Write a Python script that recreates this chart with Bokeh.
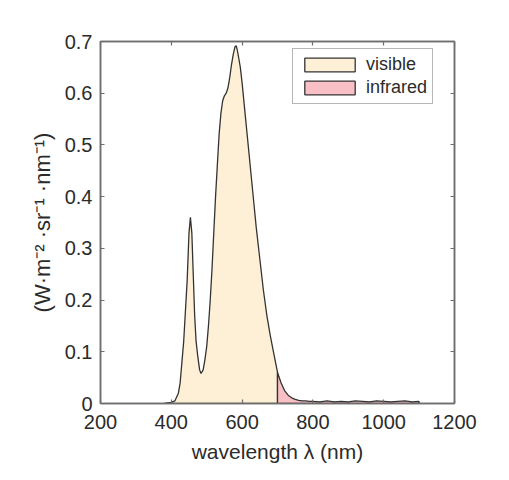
from bokeh.plotting import figure
from bokeh.models import FixedTicker, LinearAxis, Range1d, Legend, LegendItem
from bokeh.embed import file_html
from bokeh.resources import INLINE

# ---- data ----
wavelength = [380, 400, 410, 420, 425, 430, 435, 440, 445, 450, 454, 458, 462, 466, 470,
              475, 480, 484, 490, 495, 500, 505, 510, 515, 520, 525, 530, 535, 540, 545,
              550, 555, 560, 565, 570, 575, 580, 583, 586, 590, 595, 600, 610, 620, 630,
              640, 650, 660, 670, 680, 690, 700, 710, 720, 730, 740, 750, 760, 770, 780,
              790, 800, 820, 840, 860, 880, 900, 920, 940, 960, 980, 1000, 1020, 1040,
              1060, 1080, 1100]
radiance = [0.0, 0.002, 0.005, 0.02, 0.04, 0.08, 0.12, 0.18, 0.24, 0.33, 0.36, 0.33, 0.25,
            0.17, 0.12, 0.09, 0.065, 0.058, 0.065, 0.085, 0.11, 0.15, 0.20, 0.26, 0.33,
            0.40, 0.46, 0.52, 0.56, 0.585, 0.595, 0.60, 0.61, 0.63, 0.655, 0.675, 0.69,
            0.692, 0.685, 0.67, 0.65, 0.62, 0.55, 0.48, 0.41, 0.34, 0.28, 0.22, 0.17,
            0.13, 0.095, 0.06, 0.04, 0.025, 0.016, 0.011, 0.008, 0.006, 0.005, 0.005,
            0.004, 0.004, 0.003, 0.005, 0.003, 0.004, 0.003, 0.005, 0.004, 0.003, 0.005,
            0.004, 0.003, 0.004, 0.005, 0.003, 0.004]
split_nm = 700
series_names = ["visible", "infrared"]
series_colors = ["#FDF0D7", "#F8BFC4"]
x_ticks = [200, 400, 600, 800, 1000, 1200]
y_ticks = [0, 0.1, 0.2, 0.3, 0.4, 0.5, 0.6, 0.7]
y_tick_labels = ["0", "0.1", "0.2", "0.3", "0.4", "0.5", "0.6", "0.7"]

FONT = "Liberation Sans"
TXT = "#2b2b2b"
EDGE = "#333333"
FRAME = "#6e6e6e"

p = figure(width=495, height=470, frame_width=354, frame_height=362,
           output_backend="svg", toolbar_location=None,
           x_range=Range1d(200, 1200), y_range=Range1d(0, 0.7),
           min_border_left=100, min_border_right=41, min_border_top=41, min_border_bottom=67)
p.background_fill_color = "white"
p.border_fill_color = "white"
p.outline_line_color = FRAME
p.outline_line_width = 1.5
p.grid.visible = False

# split data at boundary
vis_x = [w for w in wavelength if w <= split_nm]
vis_y = [r for w, r in zip(wavelength, radiance) if w <= split_nm]
ir_x = [w for w in wavelength if w >= split_nm]
ir_y = [r for w, r in zip(wavelength, radiance) if w >= split_nm]

vis = p.patch(vis_x + [vis_x[-1], vis_x[0]], vis_y + [0, 0],
              fill_color=series_colors[0], line_color=EDGE, line_width=1.3)
ir = p.patch(ir_x + [ir_x[-1], ir_x[0]], ir_y + [0, 0],
             fill_color=series_colors[1], line_color=EDGE, line_width=1.3)

xa = p.xaxis[0]
ya = p.yaxis[0]
xa.ticker = FixedTicker(ticks=x_ticks)
ya.ticker = FixedTicker(ticks=y_ticks)
for ax in (xa, ya):
    ax.axis_line_color = FRAME
    ax.axis_line_width = 1.5
    ax.major_tick_line_color = FRAME
    ax.major_tick_line_width = 1.2
    ax.major_tick_in = 4
    ax.major_tick_out = 0
    ax.minor_tick_line_color = None
    ax.major_label_text_font = FONT
    ax.major_label_text_font_size = "20px"
    ax.major_label_text_color = TXT
    ax.axis_label_text_font = FONT
    ax.axis_label_text_font_style = "normal"
    ax.axis_label_text_color = TXT
    ax.axis_label_text_font_size = "21px"
ya.major_label_overrides = {t: l for t, l in zip(y_ticks, y_tick_labels)}
ya.axis_label_text_font_size = "22px"
xa.axis_label = "wavelength λ (nm)"
ya.axis_label = "(W·m⁻² ·sr⁻¹ ·nm⁻¹)"
xa.major_label_standoff = 11
xa.axis_label_standoff = 8
ya.major_label_standoff = 8
ya.axis_label_standoff = 7

top = LinearAxis(ticker=FixedTicker(ticks=x_ticks))
right = LinearAxis(ticker=FixedTicker(ticks=y_ticks))
for ax in (top, right):
    ax.axis_line_color = FRAME
    ax.axis_line_width = 1.5
    ax.major_tick_line_color = FRAME
    ax.major_tick_line_width = 1.2
    ax.major_tick_in = 4
    ax.major_tick_out = 0
    ax.minor_tick_line_color = None
    ax.major_label_text_color = None
    ax.major_label_text_font_size = "1px"
    ax.major_label_standoff = 0
p.add_layout(top, "above")
p.add_layout(right, "right")

legend = Legend(items=[LegendItem(label=series_names[0], renderers=[vis]),
                       LegendItem(label=series_names[1], renderers=[ir])],
                location=(192, 299))
legend.glyph_width = 63
legend.glyph_height = 17
legend.spacing = 2
legend.padding = 5
legend.margin = 0
legend.label_standoff = 5
legend.label_text_font = FONT
legend.label_text_font_size = "18px"
legend.label_text_color = TXT
legend.label_height = 17
legend.border_line_color = FRAME
legend.border_line_width = 1.5
legend.background_fill_color = "white"
legend.background_fill_alpha = 1.0
p.add_layout(legend, "center")

open("out.html", "w").write(file_html(p, INLINE))
